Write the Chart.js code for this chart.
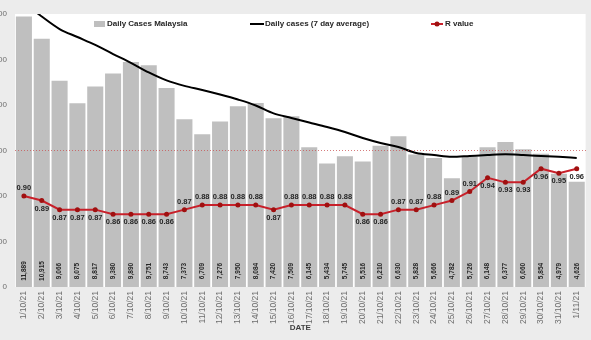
<!DOCTYPE html>
<html>
<head>
<meta charset="utf-8">
<style>
  html, body { margin: 0; padding: 0; background: #ececec; }
  #wrap { position: relative; width: 591px; height: 340px; overflow: hidden; background: #ececec; }
  #myChart { position: absolute; left: -40px; top: 0; }
</style>
</head>
<body>
<div id="wrap"><canvas id="myChart" width="631" height="340"></canvas></div>
<script src="https://cdn.jsdelivr.net/npm/chart.js"></script>
<script>
const dates = [
  "1/10/21", "2/10/21", "3/10/21", "4/10/21", "5/10/21", "6/10/21", "7/10/21", "8/10/21",
  "9/10/21", "10/10/21", "11/10/21", "12/10/21", "13/10/21", "14/10/21", "15/10/21", "16/10/21",
  "17/10/21", "18/10/21", "19/10/21", "20/10/21", "21/10/21", "22/10/21", "23/10/21", "24/10/21",
  "25/10/21", "26/10/21", "27/10/21", "28/10/21", "29/10/21", "30/10/21", "31/10/21", "1/11/21",
];
const dailyCases = [
  11889, 10915, 9066, 8075, 8817, 9380, 9890, 9751,
  8743, 7373, 6709, 7276, 7950, 8084, 7420, 7509,
  6145, 5434, 5745, 5516, 6210, 6630, 5828, 5666,
  4782, 5726, 6148, 6377, 6060, 5854, 4979, 4626,
];
const avgCases = [
  12500, 11890, 11340, 10990, 10640, 10240, 9850, 9430,
  9080, 8840, 8660, 8460, 8240, 7980, 7630, 7430,
  7230, 7030, 6810, 6550, 6330, 6150, 5890, 5800,
  5720, 5760, 5800, 5830, 5800, 5760, 5720, 5670,
];
const rValue = [
  0.90, 0.89, 0.87, 0.87, 0.87, 0.86, 0.86, 0.86,
  0.86, 0.87, 0.88, 0.88, 0.88, 0.88, 0.87, 0.88,
  0.88, 0.88, 0.88, 0.86, 0.86, 0.87, 0.87, 0.88,
  0.89, 0.91, 0.94, 0.93, 0.93, 0.96, 0.95, 0.96,
];
const yTicks = [0, 2000, 4000, 6000, 8000, 10000, 12000];

// which R labels sit under their point
const rBelow = [1, 2, 3, 4, 5, 6, 7, 8, 14, 19, 20, 26, 27, 28, 29, 30, 31];

const FONT = "'Liberation Sans', Arial, sans-serif";
Chart.defaults.font.family = FONT;

const background = {
  id: "background",
  beforeDraw(chart) {
    const { ctx, chartArea: a } = chart;
    ctx.save();
    ctx.fillStyle = "#ececec";
    ctx.fillRect(0, 0, chart.width, chart.height);
    ctx.fillStyle = "#ffffff";
    ctx.fillRect(a.left, a.top, a.right - a.left, a.bottom - a.top);
    ctx.restore();
  },
};

const valueLabels = {
  id: "valueLabels",
  afterDatasetsDraw(chart) {
    const ctx = chart.ctx;
    const bars = chart.getDatasetMeta(0).data;
    const pts = chart.getDatasetMeta(2).data;
    ctx.save();
    ctx.fillStyle = "#262626";
    ctx.textAlign = "center";
    ctx.textBaseline = "middle";
    ctx.font = "bold 6.5px " + FONT;
    bars.forEach((bar, i) => {
      ctx.save();
      ctx.translate(bar.x, chart.chartArea.bottom - 16);
      ctx.rotate(-Math.PI / 2);
      ctx.fillText(dailyCases[i].toLocaleString("en-US"), 0, 0);
      ctx.restore();
    });
    ctx.font = "bold 7.5px " + FONT;
    pts.forEach((p, i) => {
      const dy = rBelow.includes(i) ? 8 : -8;
      ctx.fillText(rValue[i].toFixed(2), p.x, p.y + dy);
    });
    ctx.restore();
  },
};

const legendBox = {
  id: "legendBox",
  afterDraw(chart) {
    const ctx = chart.ctx;
    const ds = chart.data.datasets;
    const y = 24;
    ctx.save();
    ctx.font = "bold 8px " + FONT;
    ctx.textBaseline = "middle";
    ctx.textAlign = "left";

    ctx.fillStyle = "#bfbfbf";
    ctx.fillRect(134, 21, 11, 6);
    ctx.fillStyle = "#262626";
    ctx.fillText(ds[0].label, 147, y);

    ctx.strokeStyle = "#000000";
    ctx.lineWidth = 2;
    ctx.beginPath();
    ctx.moveTo(290, y);
    ctx.lineTo(304, y);
    ctx.stroke();
    ctx.fillText(ds[1].label, 305, y);

    ctx.strokeStyle = "#c8202a";
    ctx.beginPath();
    ctx.moveTo(471, y);
    ctx.lineTo(483, y);
    ctx.stroke();
    ctx.fillStyle = "#a01010";
    ctx.beginPath();
    ctx.arc(477, y, 2.5, 0, Math.PI * 2);
    ctx.fill();
    ctx.fillStyle = "#262626";
    ctx.fillText(ds[2].label, 485, y);
    ctx.restore();
  },
};

const ctx = document.getElementById("myChart");
const myChart = new Chart(ctx, {
  type: "bar",
  data: {
    labels: dates,
    datasets: [
      {
        type: "bar",
        label: "Daily Cases Malaysia",
        data: dailyCases,
        backgroundColor: "#bfbfbf",
        barPercentage: 0.9,
        categoryPercentage: 1,
        yAxisID: "y",
        order: 3,
      },
      {
        type: "line",
        label: "Daily cases (7 day average)",
        data: avgCases,
        borderColor: "#000000",
        borderWidth: 2,
        pointRadius: 0,
        cubicInterpolationMode: "monotone",
        yAxisID: "y",
        order: 2,
      },
      {
        type: "line",
        label: "R value",
        data: rValue,
        borderColor: "#c8202a",
        borderWidth: 2,
        pointRadius: 2.5,
        pointBackgroundColor: "#a01010",
        pointBorderWidth: 0,
        yAxisID: "y1",
        order: 1,
      },
    ],
  },
  options: {
    responsive: false,
    animation: false,
    layout: {
      padding: { left: 0, right: 5, top: 14, bottom: 0 },
    },
    plugins: {
      legend: { display: false },
      tooltip: { enabled: false },
    },
    scales: {
      x: {
        grid: { display: false, drawTicks: false },
        border: { display: false },
        ticks: {
          autoSkip: false,
          maxRotation: 90,
          minRotation: 90,
          padding: 4,
          color: "#6e6e6e",
          font: { size: 8.5 },
        },
        title: {
          display: true,
          text: "DATE",
          color: "#404040",
          font: { size: 8, weight: "bold" },
          padding: { top: 0, bottom: 7 },
        },
        afterFit(s) {
          s.height = 53;
        },
      },
      y: {
        min: 0,
        max: 12000,
        grid: { display: false, drawTicks: false },
        border: { display: false },
        ticks: {
          padding: 8,
          color: "#6e6e6e",
          font: { size: 8 },
          callback: (v) => v.toLocaleString("en-US"),
        },
        afterBuildTicks(s) {
          s.ticks = yTicks.map((v) => ({ value: v }));
        },
        afterFit(s) {
          s.width = 55;
        },
      },
      y1: {
        position: "right",
        min: 0.7,
        max: 1.3,
        ticks: { display: false },
        grid: {
          drawTicks: false,
          color: "rgba(200, 80, 80, 0.75)",
          lineWidth: 1,
          z: 1,
        },
        border: { display: false, dash: [1, 2] },
        afterBuildTicks(s) {
          s.ticks = [{ value: 1 }];
        },
        afterFit(s) {
          s.width = 0;
        },
      },
    },
  },
  plugins: [background, valueLabels, legendBox],
});
</script>
</body>
</html>
